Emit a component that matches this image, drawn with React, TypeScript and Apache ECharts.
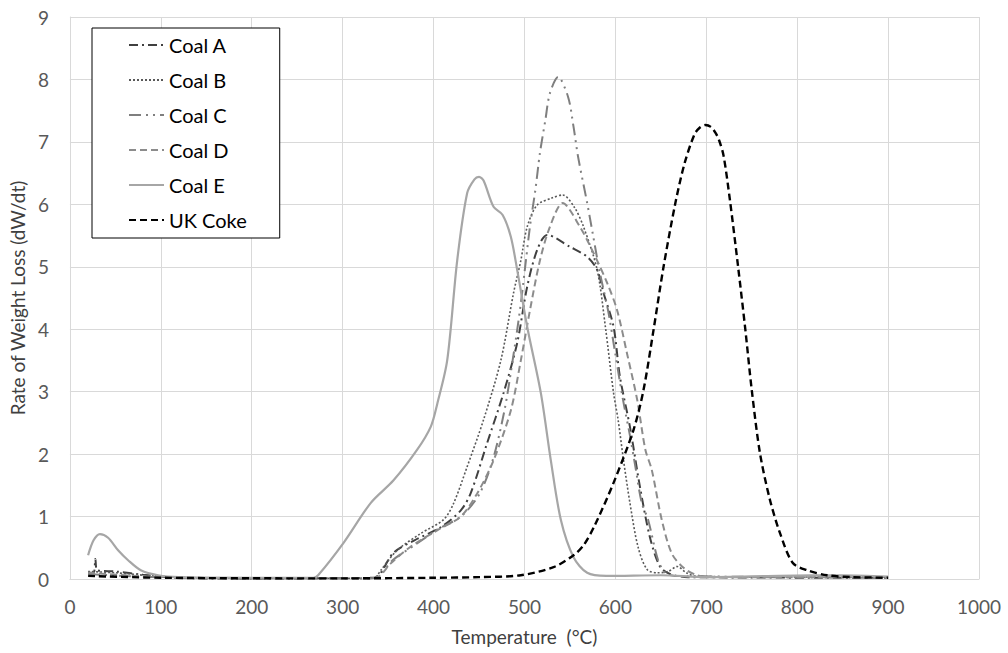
import React, { useEffect, useRef } from "react";
import * as echarts from "echarts";

const seriesNames = ["Coal A", "Coal B", "Coal C", "Coal D", "Coal E", "UK Coke"];
const xTicks = { min: 0, max: 1000, interval: 100 };
const yTicks = { min: 0, max: 9, interval: 1 };

const coalA: [number, number][] = [
  [20, 0.1], [26, 0.1], [28, 0.32], [30, 0.14], [50, 0.12], [80, 0.07], [110, 0.03], [150, 0.01], [250, 0.01],
  [335, 0.02], [342, 0.1], [356, 0.42], [379, 0.62], [408, 0.83], [430, 1.1], [441, 1.38], [459, 2.18],
  [477, 2.98], [492, 3.78], [503, 4.68], [514, 5.27], [525, 5.51], [550, 5.32], [569, 5.16], [580, 4.95],
  [587, 4.58], [598, 4.04], [605, 3.24], [616, 2.44], [627, 1.48], [638, 0.67], [649, 0.2], [660, 0.08],
  [680, 0.03], [900, 0.02],
];
const coalB: [number, number][] = [
  [20, 0.12], [50, 0.1], [90, 0.05], [130, 0.02], [200, 0.01], [330, 0.01], [337, 0.04], [342, 0.14],
  [360, 0.46], [386, 0.73], [411, 0.95], [422, 1.21], [437, 1.8], [455, 2.55], [474, 3.5], [488, 4.58],
  [496, 5.1], [503, 5.64], [514, 5.99], [530, 6.1], [542, 6.15], [555, 5.95], [565, 5.64], [580, 4.95],
  [589, 4.04], [598, 2.98], [603, 2.55], [609, 1.9], [616, 1.22], [625, 0.51], [635, 0.15], [646, 0.1],
  [658, 0.12], [668, 0.2], [678, 0.1], [690, 0.04], [900, 0.03],
];
const coalC: [number, number][] = [
  [20, 0.08], [60, 0.05], [120, 0.02], [330, 0.01], [340, 0.05], [355, 0.3], [380, 0.55], [405, 0.8],
  [430, 1.0], [450, 1.35], [465, 1.9], [478, 2.7], [487, 3.5], [495, 4.3], [500, 4.9], [506, 5.64],
  [512, 6.23], [517, 6.82], [523, 7.35], [528, 7.78], [537, 8.04], [548, 7.72], [554, 7.24], [559, 6.76],
  [569, 6.02], [575, 5.54], [583, 4.9], [592, 4.3], [600, 3.6], [608, 2.9], [616, 2.3], [622, 1.8],
  [629, 1.22], [636, 0.95], [647, 0.3], [655, 0.1], [665, 0.05], [900, 0.02],
];
const coalD: [number, number][] = [
  [20, 0.1], [60, 0.06], [120, 0.02], [330, 0.01], [340, 0.04], [353, 0.25], [375, 0.52], [404, 0.78],
  [430, 1.0], [448, 1.37], [466, 1.9], [485, 2.7], [496, 3.5], [506, 4.3], [517, 5.1], [528, 5.64],
  [542, 6.02], [561, 5.64], [576, 5.22], [591, 4.74], [602, 4.3], [613, 3.6], [624, 2.87], [633, 2.07],
  [640, 1.75], [651, 0.95], [662, 0.41], [675, 0.18], [690, 0.06], [710, 0.03], [900, 0.03],
];
const coalE: [number, number][] = [
  [20, 0.38], [26, 0.62], [33, 0.72], [42, 0.66], [53, 0.46], [64, 0.3], [78, 0.14], [97, 0.06],
  [120, 0.03], [200, 0.02], [268, 0.02], [273, 0.06], [301, 0.58], [331, 1.22], [356, 1.58], [382, 2.07],
  [397, 2.44], [404, 2.8], [415, 3.5], [426, 5.1], [437, 6.18], [445, 6.4], [450, 6.44], [455, 6.38],
  [466, 5.96], [476, 5.83], [485, 5.48], [492, 4.95], [503, 4.04], [518, 2.98], [529, 1.9], [540, 0.95],
  [554, 0.35], [569, 0.1], [590, 0.05], [650, 0.06], [700, 0.03], [780, 0.05], [850, 0.06], [900, 0.04],
];
const ukCoke: [number, number][] = [
  [20, 0.05], [100, 0.02], [300, 0.01], [400, 0.02], [450, 0.03], [496, 0.06], [532, 0.19], [554, 0.38],
  [565, 0.54], [577, 0.85], [598, 1.54], [620, 2.39], [631, 3.03], [642, 3.99], [653, 5.0], [666, 6.02],
  [676, 6.65], [687, 7.12], [693, 7.23], [699, 7.27], [705, 7.24], [710, 7.15], [714, 7.03], [719, 6.78],
  [726, 6.07], [735, 5.0], [743, 3.99], [750, 3.03], [759, 2.02], [770, 1.27], [781, 0.74], [795, 0.26],
  [811, 0.14], [833, 0.06], [860, 0.03], [900, 0.02],
];

const seriesData = [coalA, coalB, coalC, coalD, coalE, ukCoke];
const seriesStyles = [
  { color: "#404040", width: 2, type: [9, 4, 2, 4] },
  { color: "#595959", width: 1.6, type: [2, 2] },
  { color: "#7f7f7f", width: 2, type: [12, 5, 2, 5, 2, 5] },
  { color: "#8c8c8c", width: 2, type: [7, 4] },
  { color: "#a6a6a6", width: 2.2, type: "solid" },
  { color: "#000000", width: 2.4, type: [7, 4] },
];

const FONT = "Lato, 'Open Sans', sans-serif";

export default function App() {
  const ref = useRef<HTMLDivElement>(null);
  useEffect(() => {
    if (!ref.current) return;
    const chart = echarts.init(ref.current, undefined, { renderer: "svg" });
    chart.setOption({
      animation: false,
      backgroundColor: "#ffffff",
      textStyle: { fontFamily: FONT },
      grid: { left: 68.5, right: 29, top: 17, bottom: 74, containLabel: false },
      legend: {
        orient: "vertical",
        left: 92,
        top: 28,
        padding: [7, 33, 8, 36],
        borderColor: "#000000",
        borderWidth: 1,
        backgroundColor: "#ffffff",
        itemWidth: 35,
        itemHeight: 14,
        itemGap: 15,
        itemStyle: { opacity: 0, borderWidth: 0 },
        textStyle: { fontSize: 20, color: "#000000", fontFamily: FONT, lineHeight: 20 },
        data: seriesNames,
      },
      xAxis: {
        type: "value",
        min: xTicks.min,
        max: xTicks.max,
        interval: xTicks.interval,
        name: "Temperature  (°C)",
        nameLocation: "middle",
        nameGap: 48,
        nameTextStyle: { fontSize: 19, color: "#404040", fontFamily: FONT },
        axisLine: { show: true, lineStyle: { color: "#d9d9d9" } },
        axisTick: { show: false },
        axisLabel: { fontSize: 19, color: "#595959", margin: 18, fontFamily: FONT, formatter: (v: number) => String(v) },
        splitLine: { show: true, lineStyle: { color: "#d9d9d9", width: 1 } },
      },
      yAxis: {
        type: "value",
        min: yTicks.min,
        max: yTicks.max,
        interval: yTicks.interval,
        name: "Rate of Weight Loss (dW/dt)",
        nameLocation: "middle",
        nameGap: 40,
        nameTextStyle: { fontSize: 19, color: "#404040", fontFamily: FONT },
        axisLine: { show: true, lineStyle: { color: "#d9d9d9" } },
        axisTick: { show: false },
        axisLabel: { fontSize: 19, color: "#595959", margin: 21, fontFamily: FONT },
        splitLine: { show: true, lineStyle: { color: "#d9d9d9", width: 1 } },
      },
      series: seriesNames.map((name, i) => ({
        name,
        type: "line",
        data: seriesData[i],
        showSymbol: false,
        symbol: "none",
        smooth: 0.3,
        z: i === 5 ? 5 : 3,
        lineStyle: seriesStyles[i],
        itemStyle: { color: seriesStyles[i].color },
      })),
    });
    return () => chart.dispose();
  }, []);
  return <div ref={ref} style={{ width: 1008, height: 653, position: "absolute", left: 0, top: 0 }} />;
}
